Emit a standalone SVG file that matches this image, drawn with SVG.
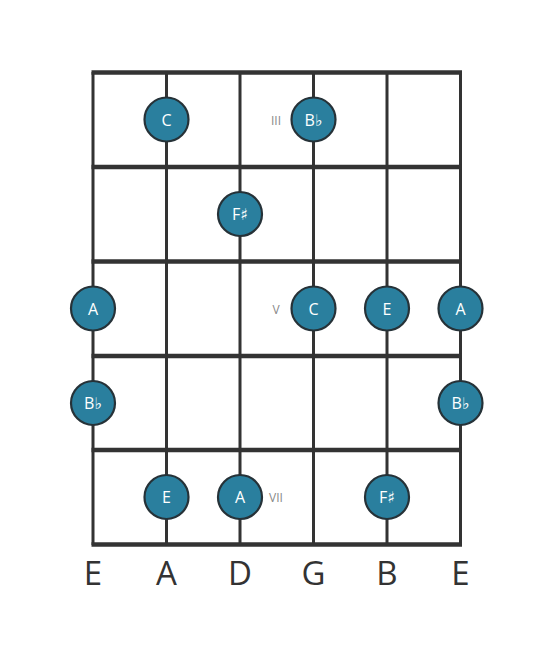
<svg xmlns="http://www.w3.org/2000/svg" width="553" height="656" viewBox="0 0 553 656">
<style>
.str{stroke:#333;stroke-width:3}
.fret{stroke:#333;stroke-width:4.5}
.dot circle{fill:#2a7f9e;stroke:#263238;stroke-width:2.2}
.dot text{fill:#fff;font-family:"Open Sans","DejaVu Sans",sans-serif;font-size:16px;text-anchor:middle;dominant-baseline:central}
.num{fill:#888;font-family:"Open Sans","DejaVu Sans",sans-serif;font-size:12px;text-anchor:middle;dominant-baseline:central}
.lbl{fill:#333;font-family:"Open Sans","DejaVu Sans",sans-serif;font-size:33px;text-anchor:middle}
</style>
<rect width="553" height="656" fill="#fff"/>
<g id="connectors">
<line class="str" x1="93" y1="72" x2="93" y2="545"/>
<line class="str" x1="166.5" y1="72" x2="166.5" y2="545"/>
<line class="str" x1="240" y1="72" x2="240" y2="545"/>
<line class="str" x1="313.5" y1="72" x2="313.5" y2="545"/>
<line class="str" x1="387" y1="72" x2="387" y2="545"/>
<line class="str" x1="460.5" y1="72" x2="460.5" y2="545"/>
<line class="fret" x1="91.5" y1="72.5" x2="462" y2="72.5"/>
<line class="fret" x1="91.5" y1="167" x2="462" y2="167"/>
<line class="fret" x1="91.5" y1="261.5" x2="462" y2="261.5"/>
<line class="fret" x1="91.5" y1="356" x2="462" y2="356"/>
<line class="fret" x1="91.5" y1="450" x2="462" y2="450"/>
<line class="fret" x1="91.5" y1="544.5" x2="462" y2="544.5"/>
</g>
<g id="fret-numbers">
<text class="num" x="276" y="120">III</text>
<text class="num" x="276" y="309">V</text>
<text class="num" x="276" y="497">VII</text>
</g>
<g id="n1" class="dot"><circle cx="166.5" cy="119.5" r="22"/><text x="166.5" y="119.5">C</text></g>
<g id="n2" class="dot"><circle cx="313.5" cy="119.5" r="22"/><text x="313.5" y="119.5">B♭</text></g>
<g id="n3" class="dot"><circle cx="240" cy="214" r="22"/><text x="240" y="214">F♯</text></g>
<g id="n4" class="dot"><circle cx="93" cy="308.5" r="22"/><text x="93" y="308.5">A</text></g>
<g id="n5" class="dot"><circle cx="313.5" cy="308.5" r="22"/><text x="313.5" y="308.5">C</text></g>
<g id="n6" class="dot"><circle cx="387" cy="308.5" r="22"/><text x="387" y="308.5">E</text></g>
<g id="n7" class="dot"><circle cx="460.5" cy="308.5" r="22"/><text x="460.5" y="308.5">A</text></g>
<g id="n8" class="dot"><circle cx="93" cy="403" r="22"/><text x="93" y="403">B♭</text></g>
<g id="n9" class="dot"><circle cx="460.5" cy="403" r="22"/><text x="460.5" y="403">B♭</text></g>
<g id="n10" class="dot"><circle cx="166.5" cy="497" r="22"/><text x="166.5" y="497">E</text></g>
<g id="n11" class="dot"><circle cx="240" cy="497" r="22"/><text x="240" y="497">A</text></g>
<g id="n12" class="dot"><circle cx="387" cy="497" r="22"/><text x="387" y="497">F♯</text></g>
<g id="string-labels">
<text class="lbl" x="93" y="585">E</text>
<text class="lbl" x="166.5" y="585">A</text>
<text class="lbl" x="240" y="585">D</text>
<text class="lbl" x="313.5" y="585">G</text>
<text class="lbl" x="387" y="585">B</text>
<text class="lbl" x="460.5" y="585">E</text>
</g>
</svg>
